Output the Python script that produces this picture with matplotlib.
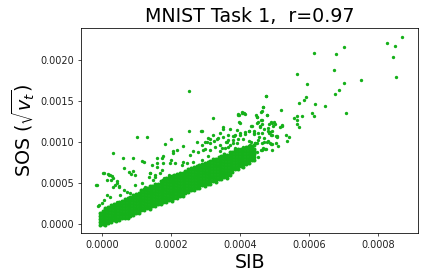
import numpy as np
import matplotlib
matplotlib.use("Agg")
import matplotlib.pyplot as plt
from matplotlib.ticker import FormatStrFormatter

# Units: SIB values in 1e-6, SOS values in 1e-5 (scaled below)
SIB_UNIT = 1e-6
SOS_UNIT = 1e-5

# Far tail points (sib, sos)
tail_points = [
    (871, 227.7), (827, 220.3), (850, 216.7), (845, 203.3), (853, 178.9), (703, 215.5),
    (679, 206.9), (616, 208.1), (673, 187.4), (566, 182.5), (752, 175.2), (703, 171.6),
    (595, 170.4), (688, 163.1), (676, 158.2), (592, 154.5), (587, 150.8), (572, 147.2),
    (618, 146), (647, 143.5), (610, 135), (708, 135), (616, 131.3), (566, 131.3),
    (581, 131.3), (557, 128.9), (566, 126.5), (566, 121.6), (572, 118), (520, 138.7),
    (476, 155.7), (468, 142.3), (252, 162.2),
]

# Scattered points in the upper middle region
upper_mid_points = [
    (465, 137.4), (479, 132.6), (534, 108.2), (543, 105.7), (535, 101.6), (407, 136.2),
    (413, 135), (395, 132.6), (447, 132.6), (450, 130.1), (398, 124), (462, 126.5),
    (453, 124), (433, 119.1), (459, 119.1), (465, 121.6), (491, 124), (499, 124),
    (485, 121.6), (502, 121.6), (497, 119.1), (523, 120.4), (517, 118), (392, 114.3),
    (427, 113.1), (441, 113.1), (470, 115.5), (371, 115.5), (383.6, 107), (401, 108.2),
    (415, 109.4), (441.5, 109.4), (456, 105.7), (470.5, 104.5), (488, 111.8), (505, 107),
    (491, 108.2), (494, 113), (482, 116.7), (485, 110.6), (453, 110.6), (508, 107),
    (395, 103.3), (409.6, 103.3), (427, 101.6), (433, 100.4), (444.4, 99.2), (450, 98.4),
    (465, 98.4), (470.5, 100.4), (482, 100.9), (494, 97.2), (505, 98.4), (511, 94.8),
    (491, 97.2), (476, 91.1), (462, 89.9), (453, 81.4), (439, 80.1), (401, 74),
    (381, 98.4), (467.6, 92.3), (472.5, 91.1), (438.6, 87), (448.5, 88.2), (429, 86.2),
    (395, 134), (409.6, 135), (448.5, 130.9), (477.5, 133), (463, 126.8), (450, 123.5),
    (492, 123.5), (458, 118.7), (434, 119.5), (400, 123.5), (351.7, 117.9), (342, 110.6),
    (366, 108.5), (385.6, 108.5), (380.6, 102.4), (400, 110.6), (414.6, 112.6), (427, 113.8),
    (440.6, 111.3), (463, 110.6), (482, 113.8), (492, 108.5), (506, 106.5), (521, 119.5),
    (477.5, 100.4), (453, 102.4), (443.5, 98.4), (429, 96.3), (409.6, 94.3), (390.5, 98.4),
    (371, 96.3), (356.6, 92.3), (342, 96.3), (438.6, 88.2), (463, 90.2), (487, 98.4),
    (492, 90.2), (475.4, 156), (461, 136.6), (467.6, 142.3), (415.5, 133.8), (405, 135.4),
    (396, 132.6),
]

# Scattered points above the band on the left / middle
upper_left_points = [
    (129.5, 106.1), (101.5, 106.1), (32.9, 86.6), (61.9, 80.1), (90.8, 80.1), (-15.4, 47.2),
    (2, 61.8), (18.3, 60.6), (29, 58.9), (322.7, 129.3), (251.3, 113), (288, 113.4),
    (201, 103.3), (183.6, 97.2), (350, 116.2), (235.7, 95.5), (216.5, 90.2), (205, 89),
    (158.6, 80.1), (176, 83.3), (177.8, 74), (199, 78), (211.6, 74), (144, 72),
    (139, 61.8), (153.6, 59.8), (148.7, 53.7), (173, 65.9), (235.7, 76), (255, 84.1),
    (264.7, 89), (279, 88.2), (293.7, 90.2), (274.5, 100.4), (313, 103.7), (324.7, 101.2),
    (337, 105.2), (359.5, 99.6), (366, 102.4), (380.6, 107.7), (342, 89), (308, 83.3),
    (264.7, 76), (289, 78), (327.6, 79.3), (371, 82.1), (385.6, 92.3), (405, 90.2),
    (289, 113.8), (322.7, 108.5), (308, 104.5), (298.6, 100.4), (289, 96.3), (332.5, 103.3),
    (327.6, 94.3), (313, 98.4), (298.6, 91.1), (4.9, 61.8), (-17.4, 47.6), (24, 59.8),
    (31.9, 55.7), (43.5, 52.8), (38.6, 47.6), (48.4, 46.3), (31, 44.8), (85, 61),
    (94.8, 59.8), (140, 61.8), (135.4, 57), (154.5, 57.7), (169, 62.6), (178.9, 55.7),
    (193.4, 59.8), (62.9, 41.5), (72.5, 39.4), (82, 37.4), (96.5, 47.6), (116, 49.6),
    (125.5, 45.5), (14.5, 35.4), (24, 33.3), (4.9, 29.3), (-9.6, 23.2), (0, 25.2),
    (53, 35.4), (43.5, 27.2), (117, 77.2), (64.6, 67.9), (79, 63.8), (89, 65),
    (21, 59.8), (25.2, 53.7), (42.6, 49.6), (50, 45.5), (158.6, 74), (173, 80.1),
    (206.7, 86.2), (231, 72), (245.5, 74), (197, 74), (303.5, 100.4), (351.7, 106.5),
    (363, 100.4), (313, 90.2), (347, 92.3), (366, 94.3), (13.6, 53.7), (158.6, 69.9),
    (121.8, 75.2), (-10.7, 22),
]

# Dense band: SIB positions (1e-6) and SOS values (1e-5) at each position
band_sib = [-6, 2, 10, 18, 26, 34, 42, 50, 58, 66, 74, 82, 90, 98, 106, 114, 122, 130,
            138, 146, 154, 162, 170, 178, 186, 194, 202, 210, 218, 226, 234, 242, 250,
            258, 266, 274, 282, 290, 298, 306, 314, 322, 330, 338, 346, 354, 362, 370,
            378, 386, 394, 402, 410, 418, 426, 434, 442]
band_sos = [
    [-1, 2.5, 6, 9.5, 13],
    [0.5, 4, 7.5, 11, 14.5, 16],
    [-1, 2.5, 6, 9.5, 13, 16.5, 19],
    [1.5, 5, 8.5, 12, 15.5, 19, 21],
    [2, 5.5, 9, 12.5, 16, 19.5, 23],
    [4.5, 8, 11.5, 15, 18.5, 22, 24],
    [4, 7.5, 11, 14.5, 18, 21.5, 25],
    [5, 7.5, 11, 14.5, 18, 21.5, 25, 27],
    [7, 10.5, 14, 17.5, 21, 24.5, 28],
    [7, 10.5, 14, 17.5, 21, 24.5, 28, 30],
    [7.5, 11, 14.5, 18, 21.5, 25, 28.5, 32],
    [10, 13.5, 17, 20.5, 24, 27.5, 31, 33],
    [10.5, 14, 17.5, 21, 24.5, 28, 31.5, 35],
    [13, 16.5, 20, 23.5, 27, 30.5, 34, 37],
    [13.5, 17, 20.5, 24, 27.5, 31, 34.5, 38],
    [17, 20.5, 24, 27.5, 31, 34.5, 38, 41],
    [16.5, 20, 23.5, 27, 30.5, 34, 37.5, 41, 43],
    [19, 22.5, 26, 29.5, 33, 36.5, 40, 43.5],
    [18.5, 22, 25.5, 29, 32.5, 36, 39.5, 43, 46],
    [22, 25.5, 29, 32.5, 36, 39.5, 43, 46.5],
    [21.5, 25, 28.5, 32, 35.5, 39, 42.5, 46, 49],
    [24, 27.5, 31, 34.5, 38, 41.5, 45, 48.5],
    [24.5, 28, 31.5, 35, 38.5, 42, 45.5, 49, 52],
    [27, 30.5, 34, 37.5, 41, 44.5, 48, 51.5, 54],
    [26.5, 30, 33.5, 37, 40.5, 44, 47.5, 51, 54.5, 56],
    [29, 32.5, 36, 39.5, 43, 46.5, 50, 53.5, 57],
    [28.5, 32, 35.5, 39, 42.5, 46, 49.5, 53, 56.5, 58],
    [32, 35.5, 39, 42.5, 46, 49.5, 53, 56.5, 60],
    [31.5, 35, 38.5, 42, 45.5, 49, 52.5, 56, 59.5, 61],
    [34, 37.5, 41, 44.5, 48, 51.5, 55, 58.5, 62],
    [34.5, 38, 41.5, 45, 48.5, 52, 55.5, 59, 62.5],
    [38, 41.5, 45, 48.5, 52, 55.5, 59, 62.5, 65],
    [38.5, 42, 45.5, 49, 52.5, 56, 59.5, 63, 66.5],
    [41, 44.5, 48, 51.5, 55, 58.5, 62, 65.5, 68],
    [41.5, 45, 48.5, 52, 55.5, 59, 62.5, 66, 69.5],
    [44, 47.5, 51, 54.5, 58, 61.5, 65, 68.5, 71],
    [43.5, 47, 50.5, 54, 57.5, 61, 64.5, 68, 71.5],
    [47, 50.5, 54, 57.5, 61, 64.5, 68, 71.5, 73],
    [46.5, 50, 53.5, 57, 60.5, 64, 67.5, 71, 74.5],
    [49, 52.5, 56, 59.5, 63, 66.5, 70, 73.5, 76],
    [48.5, 52, 55.5, 59, 62.5, 66, 69.5, 73, 76.5],
    [52, 55.5, 59, 62.5, 66, 69.5, 73, 76.5, 79],
    [51.5, 55, 58.5, 62, 65.5, 69, 72.5, 76, 79.5],
    [55, 58.5, 62, 65.5, 69, 72.5, 76, 79.5, 82],
    [54.5, 58, 61.5, 65, 68.5, 72, 75.5, 79, 82.5],
    [57, 60.5, 64, 67.5, 71, 74.5, 78, 81.5, 85],
    [56.5, 60, 63.5, 67, 70.5, 74, 77.5, 81, 84.5],
    [60, 63.5, 67, 70.5, 74, 77.5, 81, 84.5, 88],
    [63, 66.5, 70, 73.5, 77, 80.5, 84, 87.5],
    [66.5, 70, 73.5, 77, 80.5, 84, 87.5, 90],
    [67, 70.5, 74, 77.5, 81, 84.5, 88, 91],
    [70.5, 74, 77.5, 81, 84.5, 88, 91.5],
    [70, 73.5, 77, 80.5, 84, 87.5, 91],
    [73.5, 77, 80.5, 84, 87.5, 91, 94],
    [74, 77.5, 81, 84.5, 88, 91.5, 95],
    [77.5, 81, 84.5, 88, 91.5, 95],
    [78, 81.5, 85, 88.5, 92, 96],
]

x_ticks = [0.0, 0.0002, 0.0004, 0.0006, 0.0008]
y_ticks = [0.0, 0.0005, 0.0010, 0.0015, 0.0020]

# Assemble
pts = np.array(tail_points + upper_mid_points + upper_left_points, dtype=float)
bx = np.concatenate([[x] * len(ys) for x, ys in zip(band_sib, band_sos)]).astype(float)
by = np.concatenate([ys for ys in band_sos]).astype(float)

DPI = 70
fig = plt.figure(figsize=(424 / DPI, 280 / DPI), dpi=DPI)
ax = fig.add_axes([81 / 424, 1 - 232.7 / 280, (418.3 - 81) / 424, (232.7 - 27.7) / 280])
color = "#15b01a"
ax.scatter(bx * SIB_UNIT, by * SOS_UNIT, s=17, c=color, linewidths=0)
ax.scatter(pts[:, 0] * SIB_UNIT, pts[:, 1] * SOS_UNIT, s=12, c=color, linewidths=0)
ax.set_xlim(-60.9e-6, 917e-6)
ax.set_ylim(-10.6e-5, 239.4e-5)
ax.set_xticks(x_ticks)
ax.set_yticks(y_ticks)
ax.xaxis.set_major_formatter(FormatStrFormatter("%.4f"))
ax.yaxis.set_major_formatter(FormatStrFormatter("%.4f"))
ax.tick_params(labelsize=10, colors="#222222", labelcolor="#222222")
ax.set_title("MNIST Task 1,  r=0.97", fontsize=19.5)
ax.set_xlabel("SIB", fontsize=19.5)
ax.set_ylabel(r"SOS ($\sqrt{v_t}$)", fontsize=19.5)

fig.savefig("out.png", dpi=DPI)
